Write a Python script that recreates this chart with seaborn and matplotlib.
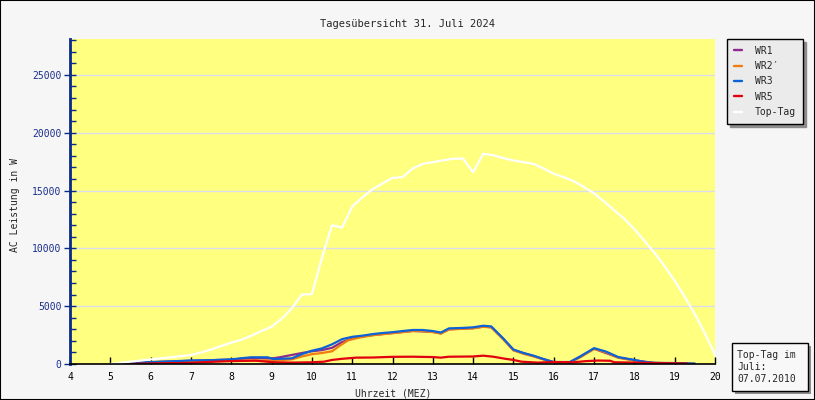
import matplotlib
matplotlib.use("Agg")
import matplotlib.pyplot as plt
from matplotlib.patches import Rectangle
from matplotlib.ticker import MultipleLocator
import seaborn as sns
import pandas as pd

# ---------------- data ----------------
series_names = ["WR1", "WR2\u2032", "WR3", "WR5", "Top-Tag"]

wr1_t = [5.4, 6.0, 7.0, 8.0, 8.5, 9.0, 9.2, 9.5, 9.75, 10.0, 10.25, 10.5, 10.75, 11.0, 11.25,
         11.5, 12.0, 12.5, 13.0, 13.2, 13.4, 14.0, 14.25, 14.45, 14.75, 15.0, 15.5, 16.0, 16.4,
         17.0, 17.6, 18.0, 18.5, 19.0, 19.5]
wr1_w = [0, 150, 280, 380, 520, 470, 580, 780, 950, 1100, 1200, 1400, 1900, 2200, 2380,
         2500, 2680, 2860, 2780, 2650, 3000, 3100, 3230, 3180, 2150, 1200, 680, 150, 150,
         1320, 560, 320, 90, 60, 20]

wr2_t = [5.4, 6.0, 7.0, 8.0, 8.5, 9.0, 9.5, 9.75, 10.0, 10.25, 10.5, 10.7, 10.9, 11.2, 11.5,
         12.0, 12.5, 12.75, 13.0, 13.2, 13.4, 14.0, 14.25, 14.45, 14.75, 15.0, 15.25, 15.5,
         16.0, 16.4, 16.65, 17.0, 17.3, 17.6, 18.0, 18.3, 19.0, 19.5]
wr2_w = [0, 150, 250, 300, 300, 280, 400, 650, 850, 950, 1100, 1600, 2050, 2300, 2480,
         2660, 2850, 2850, 2760, 2630, 2990, 3080, 3220, 3160, 2120, 1180, 880, 650,
         120, 120, 560, 1300, 1000, 540, 300, 110, 50, 10]

wr3_t = [5.35, 5.5, 6.0, 6.5, 7.0, 7.5, 8.0, 8.25, 8.5, 8.9, 9.05, 9.5, 9.75, 10.0, 10.25,
         10.5, 10.75, 11.0, 11.25, 11.5, 11.75, 12.0, 12.25, 12.5, 12.75, 13.0, 13.2, 13.4,
         13.75, 14.0, 14.25, 14.45, 14.75, 15.0, 15.25, 15.5, 15.75, 16.0, 16.4, 16.65, 17.0,
         17.3, 17.6, 18.0, 18.3, 18.5, 19.0, 19.5]
wr3_w = [0, 80, 170, 230, 300, 330, 400, 500, 580, 580, 430, 490, 850, 1150, 1350,
         1700, 2150, 2350, 2450, 2580, 2680, 2750, 2850, 2940, 2940, 2850, 2720, 3080,
         3120, 3170, 3310, 3250, 2200, 1250, 950, 720, 420, 170, 170, 630, 1370,
         1070, 600, 350, 150, 100, 80, 30]

wr5_t = [5.4, 6.0, 7.0, 7.6, 8.0, 8.6, 9.05, 9.5, 10.0, 10.3, 10.5, 10.75, 11.1, 11.5, 12.0,
         12.5, 13.0, 13.2, 13.4, 14.0, 14.25, 14.5, 14.8, 15.0, 15.2, 15.6, 16.0, 16.5, 16.8,
         17.1, 17.4, 17.5, 18.0, 18.5, 19.0, 19.3]
wr5_w = [0, 50, 100, 200, 250, 290, 150, 120, 150, 200, 350, 450, 550, 560, 620,
         630, 600, 550, 630, 650, 720, 630, 450, 350, 200, 120, 170, 150, 250,
         300, 280, 150, 120, 80, 60, 40]

top_t = [5.0, 5.5, 6.0, 6.5, 7.0, 7.25, 7.5, 7.75, 8.0, 8.25, 8.5, 8.75, 9.0, 9.25, 9.5, 9.75,
         10.0, 10.25, 10.5, 10.75, 11.0, 11.25, 11.5, 11.75, 12.0, 12.25, 12.5, 12.75, 13.0,
         13.25, 13.5, 13.75, 14.0, 14.25, 14.5, 14.75, 15.0, 15.25, 15.5, 15.75, 16.0, 16.25,
         16.5, 16.75, 17.0, 17.25, 17.5, 17.75, 18.0, 18.25, 18.5, 18.75, 19.0, 19.25, 19.5,
         19.75, 20.0]
top_w = [0, 200, 400, 580, 780, 1000, 1250, 1550, 1850, 2100, 2450, 2850, 3230, 3900, 4800, 6000,
         6050, 9200, 12000, 11800, 13600, 14400, 15100, 15600, 16100, 16150, 16900, 17300, 17450,
         17600, 17750, 17760, 16580, 18170, 18050, 17800, 17600, 17450, 17300, 16900, 16450, 16150,
         15800, 15300, 14750, 14050, 13300, 12550, 11650, 10650, 9600, 8450, 7200, 5800, 4300,
         2650, 800]

title = "Tagesübersicht 31. Juli 2024"
xlabel = "Uhrzeit (MEZ)"
ylabel = "AC Leistung in W"
info_text = "Top-Tag im\nJuli:\n07.07.2010"
x_ticks = list(range(4, 21))
y_ticks = [0, 5000, 10000, 15000, 20000, 25000]

colors = ["#8e2b8e", "#f07d10", "#0c62d6", "#e0000e", "#ffffff"]

# ---------------- build frame ----------------
frames = []
for name, t, w in zip(series_names, [wr1_t, wr2_t, wr3_t, wr5_t, top_t],
                      [wr1_w, wr2_w, wr3_w, wr5_w, top_w]):
    frames.append(pd.DataFrame({"t": t, "W": w, "series": name}))
df = pd.concat(frames, ignore_index=True)

# ---------------- plot ----------------
sns.set_style("ticks")
plt.rcParams["font.family"] = ["DejaVu Sans Mono", "DejaVu Sans"]
FS = 7

fig = plt.figure(figsize=(8.15, 4.0), dpi=100, facecolor="#f6f6f6")
ax = fig.add_axes([70 / 815, 36 / 400, 645 / 815, 325 / 400])
ax.set_facecolor("#ffff80")

sns.lineplot(data=df, x="t", y="W", hue="series", hue_order=series_names,
             palette=colors, estimator=None, sort=False, linewidth=1.6, ax=ax,
             legend=True)

ax.set_xlim(4, 20)
ax.set_ylim(0, 28100)
ax.set_xticks(x_ticks)
ax.set_xticklabels([str(v) for v in x_ticks], fontsize=FS, color="black")
ax.set_yticks(y_ticks)
ax.set_yticklabels([str(v) for v in y_ticks], fontsize=FS, color="#1a2f8c")
ax.yaxis.set_minor_locator(MultipleLocator(1000))
ax.grid(axis="y", which="major", color="#dcdcec", linewidth=1.0)
ax.set_axisbelow(True)

for s in ["top", "right"]:
    ax.spines[s].set_visible(False)
ax.spines["left"].set_color("#0a2a8a")
ax.spines["left"].set_linewidth(2.0)
ax.spines["bottom"].set_color("black")
ax.spines["bottom"].set_linewidth(1.2)

ax.tick_params(axis="y", which="major", left=True, direction="inout", length=8, width=1.0,
               color="#0a2a8a", pad=2)
ax.tick_params(axis="y", which="minor", left=True, direction="in", length=4, width=1.0,
               color="#0a2a8a")
ax.tick_params(axis="x", which="major", bottom=True, direction="in", length=5, width=1.0,
               color="black", pad=6)
ax.tick_params(axis="x", which="minor", bottom=False)

ax.set_xlabel("")
ax.set_ylabel("")
fig.text(393 / 815, 1 - 393 / 400, xlabel, fontsize=FS, ha="center", va="center")
fig.text(15 / 815, 1 - 205 / 400, ylabel, fontsize=FS, ha="center", va="center",
         rotation=90)
fig.text(408 / 815, 1 - 24 / 400, title, fontsize=7.5, ha="center", va="center")

# legend
handles, labels = ax.get_legend_handles_labels()
for h in handles:
    h.set_linewidth(1.7)
leg = ax.legend(handles, labels, loc="upper left",
                bbox_to_anchor=(727 / 815, 1 - 39 / 400), bbox_transform=fig.transFigure,
                fontsize=FS, frameon=True, fancybox=False,
                shadow={"ox": 2, "oy": -2, "color": "#8c8c8c", "alpha": 1},
                handlelength=0.8, handletextpad=1.4, labelspacing=0.55,
                borderpad=0.7, borderaxespad=0)
leg.get_frame().set_facecolor("#ebebeb")
leg.get_frame().set_edgecolor("black")
leg.get_frame().set_linewidth(1.0)
leg.get_frame().set_alpha(1)

# info box with shadow
bx, by, bw, bh = 732 / 815, 1 - 391 / 400, 76 / 815, 48 / 400
fig.patches.append(Rectangle((bx + 3 / 815, by - 3 / 400), bw, bh, transform=fig.transFigure,
                             facecolor="#8c8c8c", edgecolor="none", zorder=1))
fig.patches.append(Rectangle((bx, by), bw, bh, transform=fig.transFigure,
                             facecolor="#f8f8f8", edgecolor="black", linewidth=1.0, zorder=2))
fig.text(bx + 5 / 815, by + bh / 2, info_text, fontsize=FS, ha="left", va="center",
         linespacing=1.25, zorder=3)

# figure border
fig.patches.append(Rectangle((0, 0), 1, 1, transform=fig.transFigure, facecolor="none",
                             edgecolor="black", linewidth=1.5, zorder=10))

fig.savefig("out.png", dpi=100, facecolor=fig.get_facecolor())
